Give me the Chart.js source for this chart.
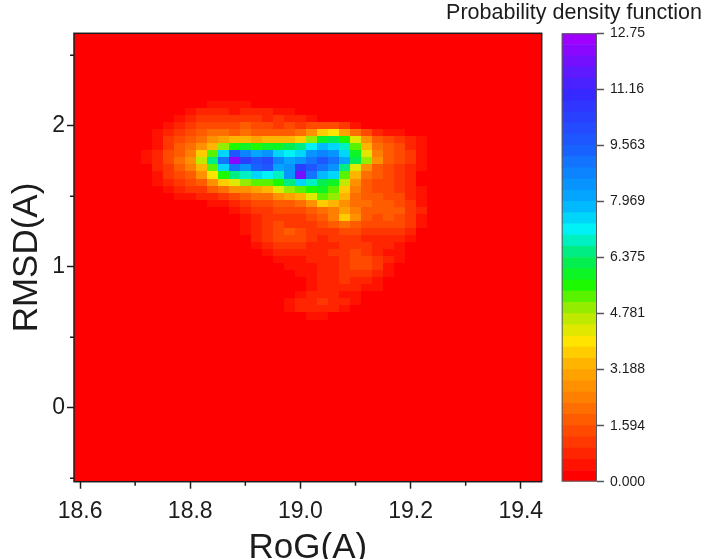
<!DOCTYPE html>
<html>
<head>
<meta charset="utf-8">
<script src="https://cdn.jsdelivr.net/npm/chart.js@4.4.1/dist/chart.umd.min.js"></script>
<style>
  body { margin: 0; background: #fff; }
  #wrap { position: relative; width: 708px; height: 559px; }
  #main { position: absolute; left: 0; top: 0; }
  #bar { position: absolute; left: 440px; top: 0; }
</style>
</head>
<body>
<div id="wrap">
  <canvas id="main" width="708" height="559"></canvas>
  <canvas id="bar" width="268" height="559"></canvas>
</div>
<script>
// axes
const xTickValues = [18.6, 18.8, 19.0, 19.2, 19.4];
const xTickLabels = ['18.6', '18.8', '19.0', '19.2', '19.4'];
const xMinorTicks = [18.7, 18.9, 19.1, 19.3];
const yTickValues = [0, 1, 2];
const yTickLabels = ['0', '1', '2'];
const yMinorTicks = [-0.5, 0.5, 1.5, 2.5];

// colour bar
const cbTickValues = [0, 1.594, 3.188, 4.781, 6.375, 7.969, 9.563, 11.16, 12.75];
const cbTickLabels = ['0.000', '1.594', '3.188', '4.781', '6.375', '7.969', '9.563', '11.16', '12.75'];
const cbMax = 12.75;
const LEVELS = 40;

// grid of the density map (cell centres)
const rogValues = [18.72, 18.74, 18.76, 18.78, 18.80, 18.82, 18.84, 18.86, 18.88, 18.90,
  18.92, 18.94, 18.96, 18.98, 19.00, 19.02, 19.04, 19.06, 19.08, 19.10,
  19.12, 19.14, 19.16, 19.18, 19.20, 19.22, 19.24, 19.26, 19.28];
const rmsdValues = [2.15, 2.10, 2.05, 2.00, 1.95, 1.90, 1.85, 1.80, 1.75, 1.70,
  1.65, 1.60, 1.55, 1.50, 1.45, 1.40, 1.35, 1.30, 1.25, 1.20,
  1.15, 1.10, 1.05, 1.00, 0.95, 0.90, 0.85, 0.80, 0.75, 0.70, 0.65];
// one row per rmsd value, one column per rog value
const density = [
  [0,0,0,0,0,.3,.5,.5,.4,.5,.3,0,0,0,0,0,0,0,0,0,0,0,0,0,0,0,0,0,0],
  [0,0,0,.3,.6,.9,.8,.7,.6,.8,.9,.7,.6,.5,.3,0,0,0,0,0,0,0,0,0,0,0,0,0,0],
  [0,0,.3,.6,.9,1.1,1.2,1,1.1,1.2,1,.9,1,.9,.7,.5,.3,0,0,0,0,0,0,0,0,0,0,0,0],
  [0,.3,.6,.9,1.1,1.3,1.5,1.4,1.5,1.6,1.4,1.3,1.2,1.3,1.2,1.3,1.5,1.4,1,.6,.3,0,0,0,0,0,0,0,0],
  [0,.4,.8,1.1,1.4,1.7,2,2.1,1.9,2,1.9,1.8,1.7,1.8,2.1,2.8,3.6,3.9,3.1,2.1,1.3,.9,.6,.4,.2,0,0,0,0],
  [.2,.5,1,1.4,1.8,2.2,2.6,3,3.3,3.2,3,3.2,3.4,3.3,3.8,5,5.8,6.2,5.6,4.2,2.6,1.8,1.5,1.2,.8,.4,0,0,0],
  [.3,.6,1.2,1.6,2,2.6,3.4,4.8,5.6,5.8,5.6,5.8,6,6.2,6.5,7.2,7.8,7.6,6.8,5.2,3.2,2,1.6,1.3,.9,.5,.2,0,0],
  [.4,.8,1.3,1.8,2.4,3.6,5.4,7.4,9.6,8.8,8,8.4,7.6,7.2,7.6,8.4,8.8,8.6,7.6,5.8,4.2,2.4,1.7,1.4,1,.5,.2,0,0],
  [.4,.8,1.4,2,2.8,4.6,6.4,9,12.4,10.4,9.6,10,8.8,8.2,8.4,9.2,9.6,9.2,8,6.2,4.8,2.6,1.8,1.4,1,.5,.2,0,0],
  [.3,.7,1.2,1.7,2.3,3.4,5.2,7.6,9.2,8.6,9.4,9.8,8,8.4,10.2,9.6,9.2,8.6,6.4,4.2,2.6,1.8,1.5,1.2,.8,.4,.2,0,0],
  [.2,.5,1,1.4,1.8,2.6,4,5.6,6.6,7,7.4,7.2,6.8,8.6,11.8,9,7.8,7.4,5.4,3.4,2.2,1.6,1.4,1.1,.7,.3,0,0,0],
  [0,.4,.8,1.1,1.4,1.8,2.6,3.6,4.4,4.8,5.2,5.4,5.6,6.4,7.4,7,6.2,6,4.6,2.8,1.9,1.5,1.3,1,.7,.3,0,0,0],
  [0,.3,.6,.8,1,1.2,1.6,2.2,2.6,2.8,3,3.4,4.2,4.8,5.2,5.6,5.8,5.4,3.8,2.4,1.7,1.5,1.4,1.2,.8,.4,0,0,0],
  [0,0,.3,.5,.6,.7,.9,1.2,1.5,1.8,2,2.2,2.6,3,3.4,4.2,5.2,4.8,3.2,2.2,1.8,1.6,1.5,1.3,.9,.5,0,0,0],
  [0,0,0,0,.2,.3,.4,.6,.8,1.1,1.3,1.5,1.7,1.9,2.2,2.8,3.8,3.2,2.6,2.2,2,1.8,1.6,1.4,1,.6,.3,0,0],
  [0,0,0,0,0,0,0,.3,.5,.8,1,1.2,1.3,1.4,1.5,1.7,2,2.4,3,2.4,1.8,1.6,1.8,1.6,1.2,.7,.3,0,0],
  [0,0,0,0,0,0,0,0,.3,.6,.9,1.1,1.2,1.1,1.2,1.4,1.6,2.4,3.6,2.6,1.7,1.5,1.6,1.5,1.1,.6,.2,0,0],
  [0,0,0,0,0,0,0,0,0,.4,.8,1.1,1.3,1.2,1.1,1.2,1.3,1.6,2,1.8,1.4,1.3,1.5,1.4,1,.5,0,0,0],
  [0,0,0,0,0,0,0,0,0,.4,.9,1.2,1.5,1.6,1.4,1.1,1,1.2,1.4,1.3,1.1,1,1.2,1.1,.7,.3,0,0,0],
  [0,0,0,0,0,0,0,0,0,.3,.8,1.1,1.4,1.5,1.3,1,.9,1,1.2,1.1,.9,.8,.9,.8,.5,.2,0,0,0],
  [0,0,0,0,0,0,0,0,0,0,.5,.8,1,1.1,1,.8,.8,.9,1.1,1.2,1,.8,.7,.6,.3,0,0,0,0],
  [0,0,0,0,0,0,0,0,0,0,.3,.6,.8,.8,.8,.7,.9,1,1.2,1.3,1.1,.8,.6,.4,.2,0,0,0,0],
  [0,0,0,0,0,0,0,0,0,0,0,.3,.5,.6,.6,.7,.8,.9,1.1,1.4,1.4,1.1,.7,.4,.2,0,0,0,0],
  [0,0,0,0,0,0,0,0,0,0,0,0,.3,.4,.5,.6,.8,.9,1,1.3,1.3,1,.6,.3,0,0,0,0,0],
  [0,0,0,0,0,0,0,0,0,0,0,0,0,.3,.4,.6,.8,.9,1,1.1,1,.7,.4,.2,0,0,0,0,0],
  [0,0,0,0,0,0,0,0,0,0,0,0,0,0,.3,.5,.7,.9,1,.9,.7,.5,.3,0,0,0,0,0,0],
  [0,0,0,0,0,0,0,0,0,0,0,0,0,0,.2,.5,.8,.9,.8,.7,.6,.4,.2,0,0,0,0,0,0],
  [0,0,0,0,0,0,0,0,0,0,0,0,0,.3,.5,.7,.8,.7,.6,.5,.3,0,0,0,0,0,0,0,0],
  [0,0,0,0,0,0,0,0,0,0,0,0,0,.4,.7,.9,1,.9,.7,.4,.2,0,0,0,0,0,0,0,0],
  [0,0,0,0,0,0,0,0,0,0,0,0,0,.4,.7,.9,.9,.7,.5,.2,0,0,0,0,0,0,0,0,0],
  [0,0,0,0,0,0,0,0,0,0,0,0,0,0,.3,.4,.4,.3,0,0,0,0,0,0,0,0,0,0,0]
];

const FONT = "'Liberation Sans', Arial, sans-serif";
const INK = '#1c1c1c';

// rainbow palette, red (low) -> violet (high)
const RAINBOW = [
  [0.000, [255, 0, 0]],
  [0.125, [255, 90, 0]],
  [0.250, [255, 175, 0]],
  [0.310, [255, 230, 0]],
  [0.375, [170, 235, 0]],
  [0.440, [20, 250, 0]],
  [0.500, [0, 235, 100]],
  [0.560, [0, 245, 245]],
  [0.625, [0, 175, 255]],
  [0.750, [25, 95, 255]],
  [0.875, [55, 40, 255]],
  [1.000, [160, 0, 255]]
];

function levelColor(k) {
  const t = k / (LEVELS - 1);
  let i = 1;
  while (i < RAINBOW.length - 1 && RAINBOW[i][0] < t) i++;
  const [t0, c0] = RAINBOW[i - 1];
  const [t1, c1] = RAINBOW[i];
  const f = Math.min(1, Math.max(0, (t - t0) / (t1 - t0)));
  const c = c0.map((v, j) => Math.round(v + (c1[j] - v) * f));
  return `rgb(${c[0]},${c[1]},${c[2]})`;
}

function levelOf(v) {
  return Math.max(0, Math.min(LEVELS - 1, Math.floor(v / (cbMax / LEVELS))));
}

const heatmapPlugin = {
  id: 'heatmap',
  beforeDatasetsDraw(chart) {
    const { ctx, chartArea: a, scales: { x, y } } = chart;
    ctx.save();
    ctx.fillStyle = levelColor(0);
    ctx.fillRect(a.left, a.top, a.width, a.height);
    const hx = (rogValues[1] - rogValues[0]) / 2;
    const hy = (rmsdValues[0] - rmsdValues[1]) / 2;
    density.forEach((row, j) => {
      row.forEach((v, i) => {
        const lvl = levelOf(v);
        if (lvl === 0) return;
        const x0 = Math.round(x.getPixelForValue(rogValues[i] - hx));
        const x1 = Math.round(x.getPixelForValue(rogValues[i] + hx));
        const y0 = Math.round(y.getPixelForValue(rmsdValues[j] + hy));
        const y1 = Math.round(y.getPixelForValue(rmsdValues[j] - hy));
        ctx.fillStyle = levelColor(lvl);
        ctx.fillRect(x0, y0, x1 - x0, y1 - y0);
      });
    });
    ctx.restore();
  },
  afterDatasetsDraw(chart) {
    const { ctx, chartArea: a, scales: { x, y } } = chart;
    ctx.save();
    ctx.strokeStyle = INK;
    ctx.lineWidth = 1.5;
    ctx.strokeRect(a.left, a.top, a.width, a.height);
    ctx.beginPath();
    xMinorTicks.forEach(v => {
      const px = x.getPixelForValue(v);
      ctx.moveTo(px, a.bottom);
      ctx.lineTo(px, a.bottom + 4);
    });
    yMinorTicks.forEach(v => {
      const py = y.getPixelForValue(v);
      ctx.moveTo(a.left, py);
      ctx.lineTo(a.left - 4, py);
    });
    ctx.stroke();
    ctx.restore();
  }
};

new Chart(document.getElementById('main'), {
  type: 'scatter',
  data: { datasets: [{ data: [], pointRadius: 0 }] },
  options: {
    responsive: false,
    animation: false,
    events: [],
    layout: { padding: { left: 0, right: 166.3, top: 33.3, bottom: 0 } },
    plugins: { legend: { display: false }, tooltip: { enabled: false } },
    scales: {
      x: {
        type: 'linear', min: 18.589, max: 19.438,
        afterBuildTicks: s => { s.ticks = xTickValues.map(v => ({ value: v })); },
        afterFit: s => { s.height = 559 - 481.7; },
        ticks: {
          callback: v => xTickLabels[xTickValues.indexOf(v)],
          color: INK, font: { family: FONT, size: 23 }, padding: 9,
          maxRotation: 0, autoSkip: false
        },
        grid: { drawOnChartArea: false, tickLength: 7, tickWidth: 1.5, tickColor: INK },
        border: { display: false },
        title: {
          display: true, text: 'RoG(A)', color: INK,
          font: { family: FONT, size: 35, lineHeight: '22px' }, padding: 0
        }
      },
      y: {
        type: 'linear', min: -0.525, max: 2.655,
        afterBuildTicks: s => { s.ticks = yTickValues.map(v => ({ value: v })); },
        afterFit: s => { s.width = 74; },
        ticks: {
          callback: v => yTickLabels[yTickValues.indexOf(v)],
          color: INK, font: { family: FONT, size: 23 }, padding: 2
        },
        grid: { drawOnChartArea: false, tickLength: 7, tickWidth: 1.5, tickColor: INK },
        border: { display: false },
        title: {
          display: true, text: 'RMSD(A)', color: INK,
          font: { family: FONT, size: 35, lineHeight: '40px' }, padding: { top: 7, bottom: 0 }
        }
      }
    }
  },
  plugins: [heatmapPlugin]
});

// colour bar: one stacked band per level
const bandSets = [];
for (let k = 0; k < LEVELS; k++) {
  bandSets.push({
    data: [cbMax / LEVELS],
    xAxisID: 'x',
    yAxisID: 'y',
    backgroundColor: levelColor(k),
    borderWidth: 0,
    barPercentage: 1,
    categoryPercentage: 1
  });
}

const framePlugin = {
  id: 'frame',
  afterDatasetsDraw(chart) {
    const { ctx, chartArea: a } = chart;
    ctx.save();
    ctx.strokeStyle = '#5a5a5a';
    ctx.lineWidth = 1;
    ctx.strokeRect(a.left + 0.5, a.top + 0.5, a.width - 1, a.height - 1);
    ctx.restore();
  }
};

new Chart(document.getElementById('bar'), {
  type: 'bar',
  data: { labels: [''], datasets: bandSets },
  options: {
    responsive: false,
    animation: false,
    events: [],
    layout: { padding: { left: 0, right: 0, top: 0, bottom: 559 - 481.7 } },
    plugins: {
      legend: { display: false },
      tooltip: { enabled: false },
      title: {
        display: true, text: 'Probability density function', color: INK,
        font: { family: FONT, size: 21.5, weight: 'normal', lineHeight: 1.2 },
        padding: { top: 0, bottom: 7.5 }
      }
    },
    scales: {
      x: { stacked: true, display: false },
      y: {
        stacked: true, position: 'right', min: 0, max: cbMax,
        afterBuildTicks: s => { s.ticks = cbTickValues.map(v => ({ value: v })); },
        afterFit: s => { s.width = 111; },
        ticks: {
          callback: v => cbTickLabels[cbTickValues.indexOf(v)],
          color: INK, font: { family: FONT, size: 14 }, padding: 6
        },
        grid: { drawOnChartArea: false, tickLength: 7, tickWidth: 1.5, tickColor: '#555' },
        border: { display: false }
      },
      // empty spacer that keeps the bar clear of the title's width
      gap: {
        type: 'linear', position: 'left', display: true,
        ticks: { display: false }, grid: { display: false }, border: { display: false },
        afterFit: s => { s.width = 121.7; }
      }
    }
  },
  plugins: [framePlugin]
});
</script>
</body>
</html>
